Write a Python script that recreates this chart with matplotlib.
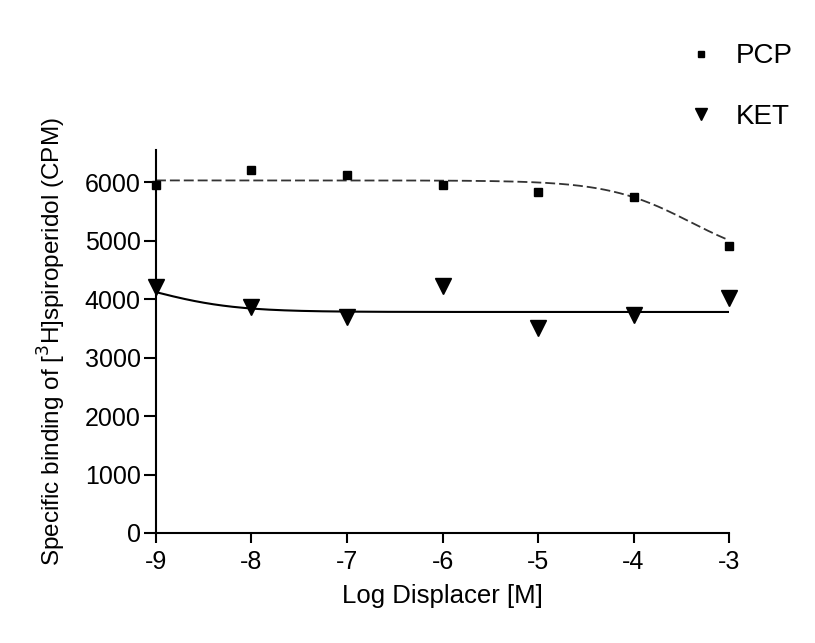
import numpy as np
import matplotlib
matplotlib.use('Agg')
import matplotlib.pyplot as plt

plt.rcParams['font.family'] = ['Liberation Sans', 'DejaVu Sans']
plt.rcParams['axes.unicode_minus'] = False

# Daten
log_dose = [-9, -8, -7, -6, -5, -4, -3]
pcp = [5950, 6200, 6130, 5960, 5830, 5740, 4900]
ket = [4200, 3860, 3690, 4230, 3500, 3730, 4020]

# Fit-Parameter (one site competition, aus Bild geschaetzt)
pcp_top, pcp_bottom, pcp_logic50 = 6030, 4600, -3.4
ket_top, ket_bottom, ket_logic50 = 4500, 3780, -9.05

xfit = np.linspace(-9, -3, 300)
pcp_fit = pcp_bottom + (pcp_top - pcp_bottom) / (1 + 10 ** (xfit - pcp_logic50))
ket_fit = ket_bottom + (ket_top - ket_bottom) / (1 + 10 ** (xfit - ket_logic50))

fig = plt.figure(figsize=(8.15, 6.43), dpi=100)
ax = fig.add_axes([0.1914, 0.1711, 0.7031, 0.5956])

ax.plot(xfit, pcp_fit, color='#333333', lw=1.3, ls=(0, (5.5, 2.2)))
ax.plot(xfit, ket_fit, color='black', lw=1.5)
ax.plot(log_dose, pcp, 's', color='black', ms=6, label='PCP', clip_on=False)
ax.plot(log_dose, ket, 'v', color='black', ms=11, label='KET', clip_on=False)

ax.set_xlim(-9, -3)
ax.set_ylim(0, 6550)
ax.set_xticks(log_dose)
ax.set_yticks([0, 1000, 2000, 3000, 4000, 5000, 6000])
ax.spines['top'].set_visible(False)
ax.spines['right'].set_visible(False)
for s in ['left', 'bottom']:
    ax.spines[s].set_linewidth(1.5)
ax.tick_params(axis='x', width=1.5, length=7.5, labelsize=18, pad=5)
ax.tick_params(axis='y', width=1.5, length=9, labelsize=18, pad=2)

ax.set_xlabel('Log Displacer [M]', fontsize=18.5, labelpad=7)
ax.set_ylabel('Specific binding of [$^3$H]spiroperidol (CPM)', fontsize=17.5, labelpad=12)

# Legende oben rechts
h1 = plt.Line2D([], [], marker='s', ls='none', color='black', ms=5)
h2 = plt.Line2D([], [], marker='v', ls='none', color='black', ms=9)
fig.legend([h1, h2], ['PCP', 'KET'], loc='upper left',
           bbox_to_anchor=(0.833, 0.95), borderaxespad=0, frameon=False,
           fontsize=20, handlelength=0.8, handletextpad=0.85, labelspacing=1.25)

fig.savefig('out.png', dpi=100)
